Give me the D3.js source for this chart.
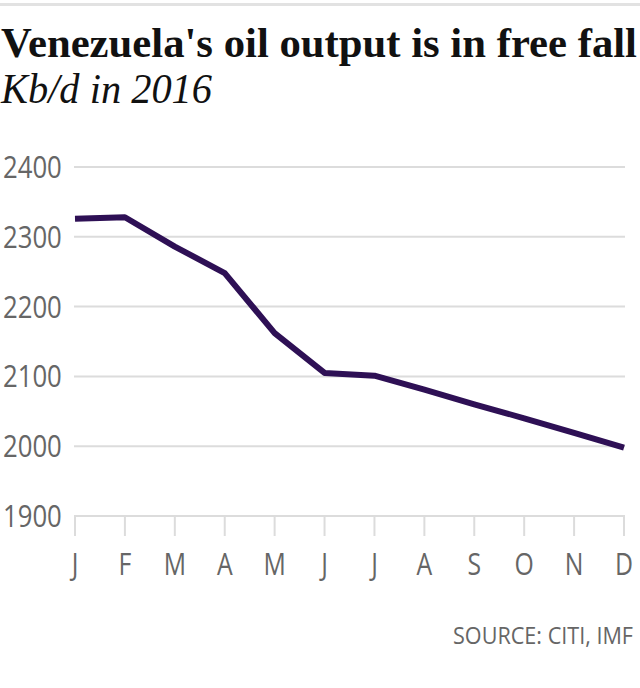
<!DOCTYPE html>
<html><head><meta charset="utf-8">
<script src="https://cdn.jsdelivr.net/npm/d3@7"></script>
<style>body{margin:0;background:#fff}svg{display:block}</style>
</head><body>
<script>
const months = ["J","F","M","A","M","J","J","A","S","O","N","D"];
const output = [2326, 2328, 2286, 2248, 2162, 2105, 2101, 2081, 2060, 2040, 2019, 1998];
const yTicks = [1900, 2000, 2100, 2200, 2300, 2400];
const title = "Venezuela's oil output is in free fall";
const subtitle = "Kb/d in 2016";
const source = "SOURCE: CITI, IMF";

const W = 640, H = 688;
const svg = d3.select("body").append("svg").attr("width", W).attr("height", H);

svg.append("rect").attr("x",0).attr("y",3).attr("width",W).attr("height",3).attr("fill","#e2e2e2");

svg.append("text").attr("x",1).attr("y",57).text(title)
  .attr("font-family","'Liberation Serif', serif").attr("font-weight","bold")
  .attr("font-size",42).attr("fill","#111")
  .attr("textLength",636).attr("lengthAdjust","spacingAndGlyphs");
svg.append("text").attr("x",1).attr("y",103).text(subtitle)
  .attr("font-family","'Liberation Serif', serif").attr("font-style","italic")
  .attr("font-size",42).attr("fill","#111")
  .attr("textLength",211).attr("lengthAdjust","spacingAndGlyphs");

const x = d3.scalePoint().domain(d3.range(12)).range([75, 624]);
const y = d3.scaleLinear().domain([1900, 2400]).range([516, 167]);
const sans = "'Open Sans',sans-serif";

const g = svg.append("g");
g.selectAll("line.grid").data(yTicks).join("line").attr("class","grid")
  .attr("x1",74).attr("x2",625).attr("y1",d=>y(d)).attr("y2",d=>y(d))
  .attr("stroke","#dcdcdc").attr("stroke-width",2);
g.selectAll("text.ylab").data(yTicks).join("text").attr("class","ylab")
  .attr("transform",d=>`translate(3,${y(d)+11}) scale(0.83,1)`).text(d=>d)
  .attr("font-family",sans).attr("font-size",31).attr("fill","#666");

g.selectAll("line.tick").data(d3.range(12)).join("line").attr("class","tick")
  .attr("x1",d=>x(d)).attr("x2",d=>x(d)).attr("y1",516).attr("y2",536)
  .attr("stroke","#dcdcdc").attr("stroke-width",2);
g.selectAll("text.xlab").data(d3.range(12)).join("text").attr("class","xlab")
  .attr("transform",d=>`translate(${x(d)},575) scale(0.8,1)`)
  .attr("text-anchor","middle").text(d=>months[d])
  .attr("font-family",sans).attr("font-size",31).attr("fill","#666");

const line = d3.line().x((d,i)=>x(i)).y(d=>y(d));
svg.append("path").datum(output).attr("d",line).attr("fill","none")
  .attr("stroke","#2e1055").attr("stroke-width",6).attr("stroke-linejoin","round");

svg.append("text").attr("transform",`translate(633,644) scale(0.9,1)`)
  .attr("text-anchor","end").text(source)
  .attr("font-family",sans).attr("font-size",24).attr("fill","#666");
</script>
</body></html>
